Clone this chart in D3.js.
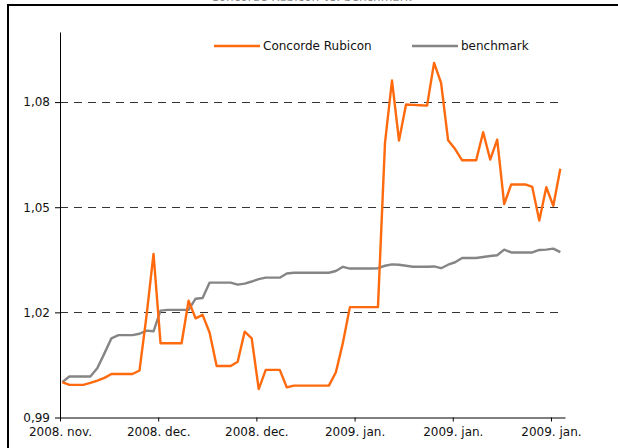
<!DOCTYPE html>
<html>
<head>
<meta charset="utf-8">
<script src="https://cdn.jsdelivr.net/npm/d3@7/dist/d3.min.js"></script>
<style>
  body { margin: 0; background: #fff; }
  svg text { font-family: "DejaVu Sans", Verdana, sans-serif; }
</style>
</head>
<body>
<svg id="chart" width="618" height="448"></svg>
<script>
// daily values, first day 2008-11-20
var firstDay = new Date(2008, 10, 20, 8);

var rubicon = [
  1.0001, 0.9993, 0.9993, 0.9993, 0.9999, 1.0005, 1.0013, 1.0024, 1.0024, 1.0024,
  1.0024, 1.0034, 1.0190, 1.0367, 1.0112, 1.0112, 1.0112, 1.0112, 1.0233, 1.0183,
  1.0193, 1.0142, 1.0047, 1.0047, 1.0047, 1.0059, 1.0145, 1.0126, 0.9981, 1.0036,
  1.0036, 1.0036, 0.9986, 0.9991, 0.9991, 0.9991, 0.9991, 0.9991, 0.9991, 1.0029,
  1.0113, 1.0215, 1.0215, 1.0215, 1.0215, 1.0215, 1.0683, 1.0862, 1.0690, 1.0793,
  1.0792, 1.0791, 1.0790, 1.0912, 1.0855, 1.0691, 1.0666, 1.0634, 1.0634, 1.0634,
  1.0714, 1.0636, 1.0693, 1.0509, 1.0565, 1.0565, 1.0565, 1.0558, 1.0462, 1.0557,
  1.0504, 1.0610
];

var benchmark = [
  1.0001, 1.0017, 1.0017, 1.0017, 1.0017, 1.0041, 1.0083, 1.0126, 1.0135, 1.0135,
  1.0135, 1.0139, 1.0148, 1.0146, 1.0205, 1.0207, 1.0207, 1.0207, 1.0207, 1.0239,
  1.0241, 1.0285, 1.0285, 1.0285, 1.0285, 1.0279, 1.0282, 1.0288, 1.0295, 1.0299,
  1.0299, 1.0299, 1.0311, 1.0313, 1.0313, 1.0313, 1.0313, 1.0313, 1.0313, 1.0318,
  1.0330, 1.0325, 1.0325, 1.0325, 1.0325, 1.0326, 1.0333, 1.0337, 1.0336, 1.0333,
  1.0330, 1.0330, 1.0330, 1.0331, 1.0326, 1.0336, 1.0343, 1.0355, 1.0355, 1.0355,
  1.0358, 1.0361, 1.0363, 1.0379, 1.0371, 1.0371, 1.0371, 1.0371, 1.0378, 1.0379,
  1.0382, 1.0372
];

var tickDates = [
  new Date(2008, 10, 20), new Date(2008, 11, 4), new Date(2008, 11, 18),
  new Date(2009, 0, 1), new Date(2009, 0, 15), new Date(2009, 0, 29)
];
var tickLabels = ["2008. nov.", "2008. dec.", "2008. dec.", "2009. jan.", "2009. jan.", "2009. jan."];
var yTicks = [0.99, 1.02, 1.05, 1.08];
var seriesNames = ["Concorde Rubicon", "benchmark"];
var seriesColors = ["#ff6a0e", "#858585"];
var chartTitle = "Concorde Rubicon vs. benchmark";

const svg = d3.select("#chart"),
  plotLeft = 60, plotRight = 565, plotTop = 32, plotBottom = 417.5;

var x = d3.scaleTime()
  .domain([new Date(2008, 10, 20), new Date(2009, 0, 31)])
  .range([plotLeft, plotRight]);

var y = d3.scaleLinear()
  .domain([0.99, 1.10])
  .range([plotBottom, plotTop]);

// frame round the chart
svg.append("rect")
  .attr("x", 8).attr("y", 5)
  .attr("width", 640).attr("height", 480)
  .attr("fill", "none")
  .attr("stroke", "#000")
  .attr("stroke-width", 2);

svg.append("text")
  .attr("x", 311).attr("y", 1)
  .attr("text-anchor", "middle")
  .attr("font-size", 12)
  .attr("fill", "#888")
  .text(chartTitle);

// dashed grid
svg.append("g")
  .selectAll("line")
  .data(yTicks.slice(1))
  .enter().append("line")
    .attr("x1", plotLeft).attr("x2", 560)
    .attr("y1", function(d) { return Math.round(y(d)) + 0.5; })
    .attr("y2", function(d) { return Math.round(y(d)) + 0.5; })
    .attr("stroke", "#333")
    .attr("stroke-dasharray", "8,6");

var series = [rubicon, benchmark];
var line = d3.line()
  .x(function(d, i) { return x(d3.timeDay.offset(firstDay, i)); })
  .y(function(d) { return y(d); });

svg.append("g")
  .selectAll("path")
  .data([1, 0])
  .enter().append("path")
    .attr("d", function(k) { return line(series[k]); })
    .attr("fill", "none")
    .attr("stroke", function(k) { return seriesColors[k]; })
    .attr("stroke-width", 2.4)
    .attr("stroke-linejoin", "round");

// axes
var xAxis = svg.append("g")
  .attr("transform", "translate(0," + plotBottom + ")")
  .call(d3.axisBottom(x)
    .tickValues(tickDates)
    .tickSizeInner(4)
    .tickSizeOuter(0)
    .tickPadding(6)
    .tickFormat(function(d, i) { return tickLabels[i]; }));

var yAxis = svg.append("g")
  .attr("transform", "translate(" + plotLeft + ",0)")
  .call(d3.axisLeft(y)
    .tickValues(yTicks)
    .tickSizeInner(5)
    .tickSizeOuter(0)
    .tickPadding(5)
    .tickFormat(function(d) { return d3.format(".2f")(d).replace(".", ","); }));

[xAxis, yAxis].forEach(function(a) {
  a.selectAll("text").attr("font-size", 12).attr("font-family", "DejaVu Sans").attr("fill", "#111");
  a.select(".domain").attr("stroke", "#000");
  a.selectAll(".tick line").attr("stroke", "#000");
});

// legend
var legendX = [214, 412];
var legend = svg.append("g")
  .selectAll("g")
  .data(seriesNames)
  .enter().append("g")
    .attr("transform", function(d, i) { return "translate(" + legendX[i] + ",46)"; });

legend.append("line")
  .attr("x1", 0).attr("x2", 46)
  .attr("stroke", function(d, i) { return seriesColors[i]; })
  .attr("stroke-width", 2.4);

legend.append("text")
  .attr("x", 49)
  .attr("dy", "0.35em")
  .attr("font-size", 12)
  .attr("fill", "#111")
  .text(function(d) { return d; });
</script>
</body>
</html>
